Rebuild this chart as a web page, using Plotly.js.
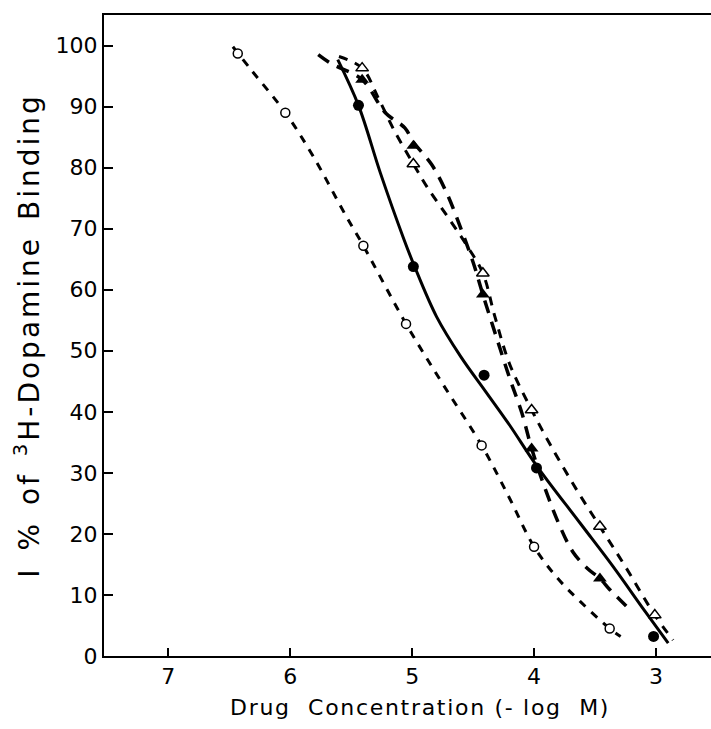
<!DOCTYPE html>
<html>
<head>
<meta charset="utf-8">
<script src="https://cdn.plot.ly/plotly-3.0.1.min.js"></script>
<style>
html,body{margin:0;padding:0;background:#fff;}
#chart{width:711px;height:729px;}
.ytitle{letter-spacing:3px;word-spacing:4px;}
.annotation-text{letter-spacing:1.7px;}
</style>
</head>
<body>
<div id="chart"></div>
<script>
// Tick labels
const xTicks = [7, 6, 5, 4, 3];
const yTicks = [0, 10, 20, 30, 40, 50, 60, 70, 80, 90, 100];

// Series A: open circles (short dashed curve)
const openCircleX = [6.43, 6.04, 5.40, 5.05, 4.43, 4.00, 3.38];
const openCircleY = [98.7, 89.0, 67.2, 54.4, 34.5, 17.9, 4.5];
const openCircleCurveX = [6.47, 6.32, 6.04, 5.81, 5.54, 5.40, 5.05, 4.75, 4.43, 4.20, 4.00, 3.81, 3.62, 3.38, 3.29];
const openCircleCurveY = [99.8, 96.0, 89.0, 81.8, 72.0, 67.2, 54.4, 44.6, 34.5, 25.8, 17.9, 12.8, 8.9, 4.5, 3.2];

// Series B: filled circles (solid curve)
const filledCircleX = [5.44, 4.99, 4.41, 3.98, 3.02];
const filledCircleY = [90.2, 63.8, 46.0, 30.8, 3.2];
const solidCurveX = [5.61, 5.44, 5.26, 5.07, 4.98, 4.80, 4.60, 4.40, 4.20, 3.98, 3.62, 3.35, 3.10, 2.90];
const solidCurveY = [97.7, 90.2, 79.1, 68.4, 63.8, 55.6, 49.0, 43.4, 37.8, 31.2, 21.7, 14.6, 7.6, 2.1];

// Series C: open triangles (dashed curve)
const openTriX = [5.41, 4.99, 4.42, 4.02, 3.46, 3.01];
const openTriY = [96.3, 80.6, 62.7, 40.3, 21.2, 6.7];
const openTriCurveX = [5.60, 5.41, 5.28, 5.15, 4.99, 4.87, 4.70, 4.55, 4.42, 4.32, 4.20, 4.02, 3.85, 3.65, 3.46, 3.25, 3.01, 2.86];
const openTriCurveY = [98.2, 96.3, 91.5, 86.2, 80.6, 76.6, 71.7, 67.2, 62.7, 55.5, 47.8, 40.3, 34.0, 27.2, 21.2, 14.6, 6.7, 2.6];

// Series D: filled triangles (long dashed curve)
const filledTriX = [5.41, 4.99, 4.42, 4.02, 3.46];
const filledTriY = [94.4, 83.6, 59.2, 34.0, 12.7];
const filledTriCurveX = [5.77, 5.67, 5.41, 5.22, 5.06, 4.99, 4.84, 4.72, 4.60, 4.50, 4.42, 4.31, 4.20, 4.10, 4.02, 3.92, 3.80, 3.68, 3.56, 3.46, 3.38, 3.29, 3.21];
const filledTriCurveY = [98.5, 97.1, 94.4, 89.0, 86.5, 84.2, 80.5, 76.0, 70.0, 64.5, 59.2, 52.3, 45.5, 39.8, 34.0, 28.0, 21.8, 17.0, 14.3, 12.7, 10.9, 9.1, 7.5];

const FONT = "DejaVu Sans, Arial, sans-serif";

const traces = [
  {x: openCircleCurveX, y: openCircleCurveY, mode: 'lines', line: {color: '#000', width: 3, dash: '8px,8px', shape: 'spline', smoothing: 1}, hoverinfo: 'skip'},
  {x: solidCurveX, y: solidCurveY, mode: 'lines', line: {color: '#000', width: 3, shape: 'spline', smoothing: 1}, hoverinfo: 'skip'},
  {x: openTriCurveX, y: openTriCurveY, mode: 'lines', line: {color: '#000', width: 3, dash: '9px,8px', shape: 'spline', smoothing: 1}, hoverinfo: 'skip'},
  {x: filledTriCurveX, y: filledTriCurveY, mode: 'lines', line: {color: '#000', width: 3.5, dash: '13px,9px', shape: 'spline', smoothing: 1}, hoverinfo: 'skip'},
  {x: openCircleX, y: openCircleY, mode: 'markers', marker: {symbol: 'circle', size: 9, color: '#fff', line: {color: '#000', width: 1.5}}},
  {x: filledCircleX, y: filledCircleY, mode: 'markers', marker: {symbol: 'circle', size: 11, color: '#000', line: {color: '#000', width: 0}}},
  {x: openTriX, y: openTriY, mode: 'markers', marker: {symbol: 'triangle-up', size: 11, color: '#fff', line: {color: '#000', width: 1.5}}},
  {x: filledTriX, y: filledTriY, mode: 'markers', marker: {symbol: 'triangle-up', size: 12, color: '#000', line: {color: '#000', width: 0}}}
];

const layout = {
  width: 711, height: 729,
  margin: {l: 104, r: 0, t: 15, b: 73, pad: 0},
  paper_bgcolor: '#fff', plot_bgcolor: '#fff',
  showlegend: false,
  font: {family: FONT, color: '#000', size: 22},
  xaxis: {
    range: [7.527, 2.549], tickvals: xTicks, ticktext: xTicks.map(String),
    ticks: 'inside', ticklen: 8, tickwidth: 2, tickcolor: '#000',
    showline: true, linewidth: 2, linecolor: '#000', mirror: true,
    showgrid: false, zeroline: false,
    tickfont: {family: FONT, size: 22, color: '#000'}
  },
  yaxis: {
    range: [0, 105.0], tickvals: yTicks, ticktext: yTicks.map(String),
    ticks: 'inside', ticklen: 9, tickwidth: 2, tickcolor: '#000',
    showline: true, linewidth: 2, linecolor: '#000',
    showgrid: false, zeroline: false,
    tickfont: {family: FONT, size: 22, color: '#000'},
    title: {text: 'I % of <sup>3</sup>H-Dopamine Binding', font: {family: FONT, size: 28, color: '#000'}, standoff: 8}
  },
  annotations: [{
    text: 'Drug  Concentration (- log  M)',
    xref: 'paper', yref: 'paper', x: 0.52, y: -0.081,
    xanchor: 'center', yanchor: 'middle', showarrow: false,
    font: {family: FONT, size: 22, color: '#000'}
  }]
};

Plotly.newPlot('chart', traces, layout, {displayModeBar: false, staticPlot: true});
</script>
</body>
</html>
